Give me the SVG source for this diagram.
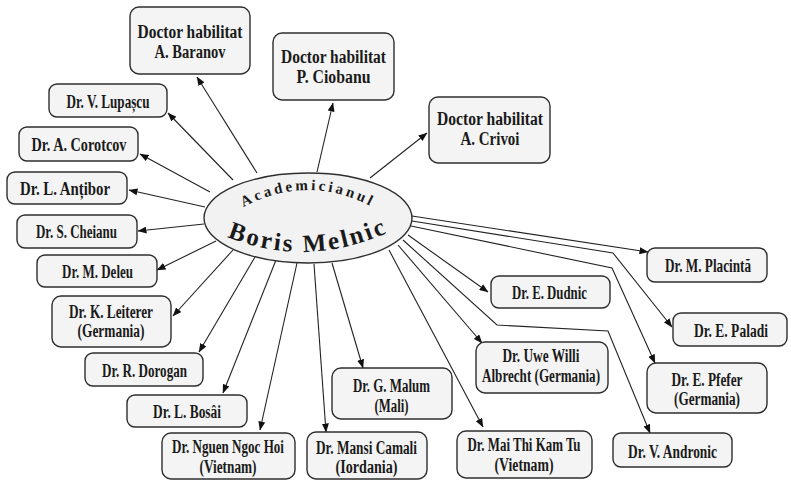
<svg xmlns="http://www.w3.org/2000/svg" width="791" height="480" viewBox="0 0 791 480">
<style>
.box{fill:#f4f4f4;stroke:#2e2e2e;stroke-width:1.4}
.t{font-family:"Liberation Serif",serif;font-weight:bold;font-size:18px;fill:#1a1a1a;text-anchor:middle}
.c{fill:none;stroke:#222;stroke-width:1.1}
.ac{font-family:"Liberation Serif",serif;font-weight:bold;font-size:15px;letter-spacing:3px;fill:#1a1a1a}
.bm{font-family:"Liberation Serif",serif;font-weight:bold;font-size:25px;letter-spacing:2.5px;fill:#1a1a1a}
</style>
<defs>
<marker id="ah" markerWidth="9" markerHeight="7" refX="8.5" refY="3.5" orient="auto" markerUnits="userSpaceOnUse">
<path d="M0,0 L9,3.5 L0,7 Z" fill="#111"/>
</marker>
<path id="arcA" d="M 230 215 Q 308 165 386 215"/>
<path id="arcB" d="M 216 232 Q 305 274 400 227"/>
</defs>
<rect width="791" height="480" fill="#fff"/>

<g id="connectors">
<line class="c" x1="257" y1="173" x2="197" y2="77" marker-end="url(#ah)"/>
<line class="c" x1="317" y1="172" x2="333" y2="103" marker-end="url(#ah)"/>
<line class="c" x1="370" y1="178" x2="427" y2="133" marker-end="url(#ah)"/>
<line class="c" x1="233" y1="180" x2="168" y2="113" marker-end="url(#ah)"/>
<line class="c" x1="210" y1="192" x2="140" y2="154" marker-end="url(#ah)"/>
<line class="c" x1="205" y1="207" x2="129" y2="190" marker-end="url(#ah)"/>
<line class="c" x1="204" y1="224" x2="138" y2="231" marker-end="url(#ah)"/>
<line class="c" x1="216" y1="241" x2="157" y2="270" marker-end="url(#ah)"/>
<line class="c" x1="233" y1="250" x2="173" y2="316" marker-end="url(#ah)"/>
<line class="c" x1="255" y1="257" x2="199" y2="352" marker-end="url(#ah)"/>
<line class="c" x1="276" y1="260" x2="223" y2="393" marker-end="url(#ah)"/>
<line class="c" x1="297" y1="263" x2="260" y2="430" marker-end="url(#ah)"/>
<line class="c" x1="314" y1="264" x2="326" y2="432" marker-end="url(#ah)"/>
<line class="c" x1="332" y1="263" x2="363" y2="368" marker-end="url(#ah)"/>
<line class="c" x1="389" y1="250" x2="483" y2="427" marker-end="url(#ah)"/>
<line class="c" x1="398" y1="245" x2="482" y2="343" marker-end="url(#ah)"/>
<line class="c" x1="408" y1="235" x2="488" y2="292" marker-end="url(#ah)"/>
<polyline class="c" points="403,240 497,325 608,331 650,433" marker-end="url(#ah)"/>
<line class="c" x1="412" y1="216" x2="648" y2="252" marker-end="url(#ah)"/>
<polyline class="c" points="412,221 613,253 672,327" marker-end="url(#ah)"/>
<polyline class="c" points="411,226 612,268 655,363" marker-end="url(#ah)"/>
</g>

<g id="center">
<ellipse cx="308" cy="218" rx="104" ry="45" fill="#f2f2f2" stroke="#2e2e2e" stroke-width="1.4"/>
<text class="ac"><textPath href="#arcA" startOffset="50%" text-anchor="middle">Academicianul</textPath></text>
<text class="bm"><textPath href="#arcB" startOffset="50%" text-anchor="middle">Boris Melnic</textPath></text>
</g>

<g id="baranov"><rect class="box" x="130" y="7" width="120" height="67" rx="9"/>
<text class="t" x="190" y="38" textLength="105" lengthAdjust="spacingAndGlyphs">Doctor habilitat</text>
<text class="t" x="190" y="58" textLength="71" lengthAdjust="spacingAndGlyphs">A. Baranov</text></g>

<g id="ciobanu"><rect class="box" x="273" y="33" width="121" height="67" rx="9"/>
<text class="t" x="333.5" y="63" textLength="105" lengthAdjust="spacingAndGlyphs">Doctor habilitat</text>
<text class="t" x="333.5" y="83" textLength="74" lengthAdjust="spacingAndGlyphs">P. Ciobanu</text></g>

<g id="crivoi"><rect class="box" x="429" y="97" width="121" height="66" rx="9"/>
<text class="t" x="490" y="125" textLength="106" lengthAdjust="spacingAndGlyphs">Doctor habilitat</text>
<text class="t" x="490" y="145" textLength="59" lengthAdjust="spacingAndGlyphs">A. Crivoi</text></g>

<g id="lupascu"><rect class="box" x="49" y="84" width="118" height="33" rx="8"/>
<text class="t" x="108" y="108" textLength="83" lengthAdjust="spacingAndGlyphs">Dr. V. Lupașcu</text></g>

<g id="corotcov"><rect class="box" x="19" y="127" width="119" height="34" rx="8"/>
<text class="t" x="79" y="151" textLength="95" lengthAdjust="spacingAndGlyphs">Dr. A. Corotcov</text></g>

<g id="antibor"><rect class="box" x="7" y="172" width="120" height="32" rx="8"/>
<text class="t" x="65" y="195" textLength="90" lengthAdjust="spacingAndGlyphs">Dr. L. Anțibor</text></g>

<g id="cheianu"><rect class="box" x="17" y="215" width="120" height="33" rx="8"/>
<text class="t" x="76.5" y="238" textLength="81" lengthAdjust="spacingAndGlyphs">Dr. S. Cheianu</text></g>

<g id="deleu"><rect class="box" x="37" y="255" width="120" height="32" rx="8"/>
<text class="t" x="97.5" y="278" textLength="71" lengthAdjust="spacingAndGlyphs">Dr. M. Deleu</text></g>

<g id="leiterer"><rect class="box" x="52" y="296" width="119" height="51" rx="9"/>
<text class="t" x="111" y="318" textLength="84" lengthAdjust="spacingAndGlyphs">Dr. K. Leiterer</text>
<text class="t" x="111" y="337" textLength="67" lengthAdjust="spacingAndGlyphs">(Germania)</text></g>

<g id="dorogan"><rect class="box" x="85" y="353" width="118" height="33" rx="8"/>
<text class="t" x="144.5" y="377" textLength="85" lengthAdjust="spacingAndGlyphs">Dr. R. Dorogan</text></g>

<g id="bosai"><rect class="box" x="127" y="395" width="120" height="32" rx="8"/>
<text class="t" x="187" y="418" textLength="68" lengthAdjust="spacingAndGlyphs">Dr. L. Bosâi</text></g>

<g id="nguen"><rect class="box" x="162" y="433" width="133" height="46" rx="9"/>
<text class="t" x="228" y="453" textLength="112" lengthAdjust="spacingAndGlyphs">Dr. Nguen Ngoc Hoi</text>
<text class="t" x="228" y="473" textLength="57" lengthAdjust="spacingAndGlyphs">(Vietnam)</text></g>

<g id="mansi"><rect class="box" x="307" y="432" width="120" height="47" rx="9"/>
<text class="t" x="366.5" y="454" textLength="101" lengthAdjust="spacingAndGlyphs">Dr. Mansi Camali</text>
<text class="t" x="366.5" y="473" textLength="62" lengthAdjust="spacingAndGlyphs">(Iordania)</text></g>

<g id="malum"><rect class="box" x="332" y="368" width="120" height="51" rx="9"/>
<text class="t" x="391.5" y="392" textLength="77" lengthAdjust="spacingAndGlyphs">Dr. G. Malum</text>
<text class="t" x="391.5" y="412" textLength="34" lengthAdjust="spacingAndGlyphs">(Mali)</text></g>

<g id="maithi"><rect class="box" x="457" y="431" width="135" height="47" rx="9"/>
<text class="t" x="524" y="451" textLength="113" lengthAdjust="spacingAndGlyphs">Dr. Mai Thi Kam Tu</text>
<text class="t" x="524" y="471" textLength="59" lengthAdjust="spacingAndGlyphs">(Vietnam)</text></g>

<g id="uwe"><rect class="box" x="476" y="342" width="132" height="51" rx="9"/>
<text class="t" x="541" y="362" textLength="77" lengthAdjust="spacingAndGlyphs">Dr. Uwe Willi</text>
<text class="t" x="541" y="382" textLength="118" lengthAdjust="spacingAndGlyphs">Albrecht (Germania)</text></g>

<g id="dudnic"><rect class="box" x="491" y="276" width="119" height="32" rx="8"/>
<text class="t" x="549.5" y="299" textLength="75" lengthAdjust="spacingAndGlyphs">Dr. E. Dudnic</text></g>

<g id="placinta"><rect class="box" x="647" y="248" width="120" height="34" rx="8"/>
<text class="t" x="708" y="272" textLength="86" lengthAdjust="spacingAndGlyphs">Dr. M. Placintă</text></g>

<g id="paladi"><rect class="box" x="673" y="313" width="114" height="33" rx="8"/>
<text class="t" x="731" y="337" textLength="74" lengthAdjust="spacingAndGlyphs">Dr. E. Paladi</text></g>

<g id="pfefer"><rect class="box" x="647" y="363" width="120" height="50" rx="9"/>
<text class="t" x="707" y="386" textLength="71" lengthAdjust="spacingAndGlyphs">Dr. E. Pfefer</text>
<text class="t" x="707" y="405" textLength="66" lengthAdjust="spacingAndGlyphs">(Germania)</text></g>

<g id="andronic"><rect class="box" x="613" y="433" width="119" height="34" rx="8"/>
<text class="t" x="672.5" y="458" textLength="89" lengthAdjust="spacingAndGlyphs">Dr. V. Andronic</text></g>
</svg>
